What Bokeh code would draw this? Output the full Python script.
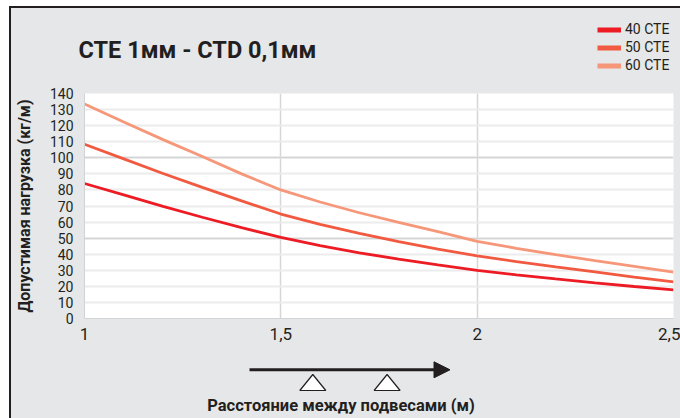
from bokeh.plotting import figure
from bokeh.models import (Range1d, FixedTicker, Grid, Legend, LegendItem,
                          Arrow, NormalHead)
from bokeh.layouts import column
from bokeh.embed import file_html
from bokeh.resources import INLINE
from bokeh.core.properties import value

# ---- data ----
span_m = [1.0, 1.1, 1.2, 1.3, 1.4, 1.5, 1.6, 1.7, 1.8, 1.9, 2.0, 2.1, 2.2, 2.3, 2.4, 2.5]
cte40 = [84, 76.9, 69.8, 63, 56.5, 50.5, 45.4, 40.9, 37, 33.3, 30, 27.2, 24.6, 22.2, 19.9, 17.8]
cte50 = [108.4, 99.3, 90.2, 81.6, 73.2, 65, 58.6, 52.9, 47.8, 43.2, 39, 35.4, 32.1, 29, 25.8, 22.8]
cte60 = [133.5, 122.3, 111.3, 100.8, 90, 80, 72.5, 65.8, 59.8, 54, 48, 43.7, 39.7, 36, 32.4, 28.8]
series_names = ["40 CTE", "50 CTE", "60 CTE"]
series_colors = ["#ed1c24", "#f15a40", "#f7977a"]
x_ticks = [1, 1.5, 2, 2.5]
x_tick_labels = ["1", "1,5", "2", "2,5"]
y_ticks = list(range(0, 141, 10))
y_strong_ticks = [50, 100]
title_text = "CTE 1мм - CTD 0,1мм"
y_title = "Допустимая нагрузка (кг/м)"
x_title = "Расстояние между подвесами (м)"

BG = "#e6e7e8"
TXT = "#231f20"
FONT = "Roboto"
W = 669


def band(h):
    f = figure(width=W, height=h, output_backend="svg", toolbar_location=None,
               x_range=Range1d(0, W), y_range=Range1d(h, 0),
               x_axis_location=None, y_axis_location=None, min_border=0,
               frame_align=False)
    f.grid.visible = False
    f.outline_line_color = None
    f.background_fill_color = BG
    f.border_fill_color = BG
    return f


# ---- top band: title + legend ----
top = band(72)
top.text(x=[67], y=[41.5], text=[title_text], text_font=value(FONT), text_font_style="bold",
         text_font_size="23.5px", text_color=TXT, text_baseline="middle")
items = []
for name, ys, col in zip(series_names, [cte40, cte50, cte60], series_colors):
    # the series sit far outside this band's visible range; only the legend swatch shows
    r = top.line(span_m, [-y for y in ys], line_color=col, line_width=5)
    items.append(LegendItem(label=name, renderers=[r]))
top.add_layout(Legend(items=items, location=(586, 6.8), background_fill_alpha=0,
                      border_line_color=None, padding=0, margin=0, spacing=2,
                      glyph_width=24, glyph_height=15, label_height=15, label_standoff=4,
                      label_text_font=FONT, label_text_font_size="14px",
                      label_text_color=TXT))

# ---- main chart ----
p = figure(width=W, height=265, output_backend="svg", toolbar_location=None,
           x_range=Range1d(1, 2.5), y_range=Range1d(0, 140), frame_align=False,
           min_border_left=71, min_border_right=7, min_border_top=13, min_border_bottom=27)
p.border_fill_color = BG
p.background_fill_color = "white"
p.outline_line_color = None

p.xaxis.ticker = FixedTicker(ticks=x_ticks)
p.xaxis.major_label_overrides = {t: l for t, l in zip(x_ticks, x_tick_labels)}
p.yaxis.ticker = FixedTicker(ticks=y_ticks)
for ax in (p.xaxis, p.yaxis):
    ax.axis_line_color = "#d1d3d4"
    ax.major_tick_line_color = None
    ax.minor_tick_line_color = None
    ax.major_label_text_font = FONT
    ax.major_label_text_color = TXT
p.xaxis.major_label_text_font_size = "17px"
p.xaxis.major_label_standoff = 3
p.yaxis.major_label_text_font_size = "14px"
p.yaxis.major_label_standoff = 5
p.yaxis.axis_label = y_title
p.yaxis.axis_label_text_font = FONT
p.yaxis.axis_label_text_font_style = "bold"
p.yaxis.axis_label_text_font_size = "16px"
p.yaxis.axis_label_text_color = TXT
p.yaxis.axis_label_standoff = 13

p.ygrid.grid_line_color = "#ececec"
p.ygrid.grid_line_width = 2
p.xgrid.grid_line_color = "#d6d6d6"
p.xgrid.grid_line_width = 1.5
p.add_layout(Grid(dimension=1, ticker=FixedTicker(ticks=y_strong_ticks),
                  grid_line_color="#d1d3d4", grid_line_width=1.5))

for ys, col in zip([cte40, cte50, cte60], series_colors):
    p.line(span_m, ys, line_color=col, line_width=2.8)

# ---- bottom band: arrow, supports, x title ----
bot = band(73)
bot.add_layout(Arrow(end=NormalHead(size=16, fill_color=TXT, line_color=TXT),
                     x_start=238, y_start=24.3, x_end=438.5, y_end=24.3,
                     line_width=3, line_color=TXT))
tri_cx = [301.3, 375.6]
bot.patches([[c - 13, c, c + 13] for c in tri_cx], [[45, 29, 45] for _ in tri_cx],
            fill_color="white", line_color=TXT, line_width=1.2)
bot.text(x=[329.5], y=[59.5], text=[x_title], text_font=value(FONT), text_font_style="bold",
         text_font_size="16.5px", text_color=TXT, text_align="center", text_baseline="middle")

layout = column(top, p, bot, spacing=0,
                styles={"margin-top": "6px", "margin-left": "9px", "background-color": BG,
                        "border-top": "2px solid #231f20", "border-left": "2px solid #231f20"})

open("out.html", "w").write(file_html(layout, INLINE))
